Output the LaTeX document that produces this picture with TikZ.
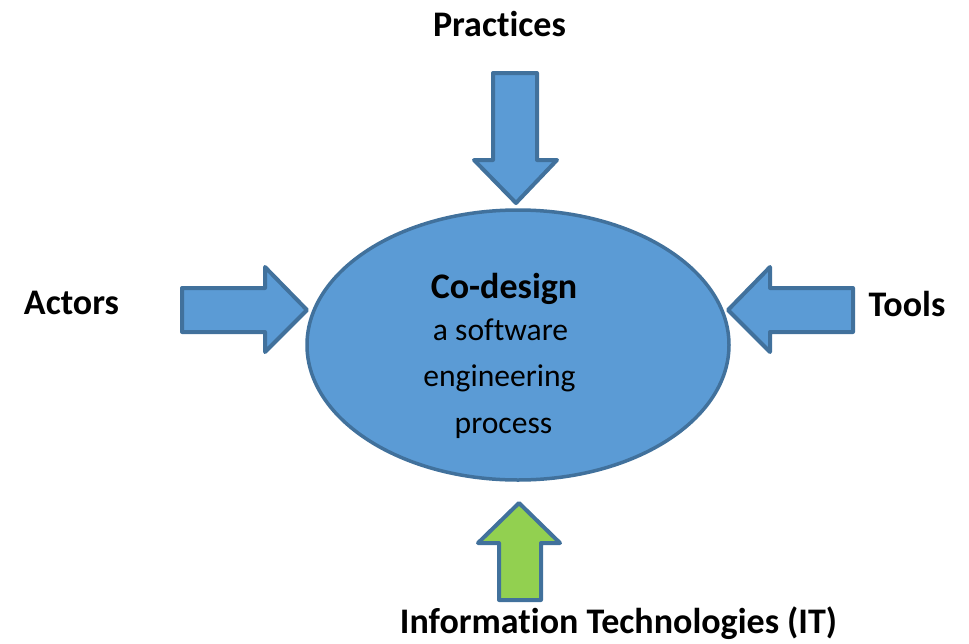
\documentclass[tikz,border=0pt]{standalone}
\usepackage{fontspec}
\setmainfont[Ligatures={NoCommon}]{Carlito}
\usetikzlibrary{shapes.geometric}
\definecolor{boxblue}{HTML}{5B9BD5}
\definecolor{edgeblue}{HTML}{41719C}
\definecolor{itgreen}{HTML}{92D050}
\pgfdeclarelayer{nodelayer}
\pgfdeclarelayer{edgelayer}
\pgfsetlayers{edgelayer,nodelayer,main}
\tikzstyle{none}=[inner sep=0pt, anchor=base]
\tikzstyle{title}=[none, font=\fontsize{36}{40}\selectfont\bfseries]
\tikzstyle{body}=[none, font=\fontsize{31.6}{36}\selectfont]
\tikzset{blockarrow/.style={draw=edgeblue, line width=4pt, fill=boxblue, line join=round}}
\tikzset{centre/.style={shape=ellipse, draw=edgeblue, line width=3.5pt, fill=boxblue, inner sep=0pt}}

\begin{document}
\begin{tikzpicture}[x=1pt, y=-1pt]
        \useasboundingbox (0, 0) rectangle (969, 643);
        \begin{pgfonlayer}{nodelayer}
            \node [centre, minimum width=422pt, minimum height=270pt] (0) at (518, 345) {};
            \node [title] (1) at (499.5, 36) {Practices};
            \node [title] (2) at (71.5, 314) {Actors};
            \node [title] (3) at (907, 316) {Tools};
            \node [title] (4) at (618.5, 633) {Information Technologies (IT)};
            \node [title] (5) at (504, 298) {Co-design};
            \node [body] (6) at (500.5, 340) {a software};
            \node [body] (7) at (499.5, 386) {engineering};
            \node [body] (8) at (503.5, 433) {process};
        \end{pgfonlayer}
        \begin{pgfonlayer}{edgelayer}
            % practices
            \draw [blockarrow] (493, 73) -- (537, 73) -- (537, 160) -- (557, 160) -- (516, 203) -- (474, 160) -- (493, 160) -- cycle;
            % actors
            \draw [blockarrow] (182, 288) -- (265, 288) -- (265, 267) -- (307, 310) -- (265, 352) -- (265, 332) -- (182, 332) -- cycle;
            % tools
            \draw [blockarrow] (853, 288) -- (770, 288) -- (770, 267) -- (728, 310) -- (770, 352) -- (770, 332) -- (853, 332) -- cycle;
            % IT
            \draw [blockarrow, fill=itgreen] (499, 600) -- (541, 600) -- (541, 543) -- (560, 543) -- (519, 503) -- (478, 543) -- (499, 543) -- cycle;
        \end{pgfonlayer}
    \end{tikzpicture}
\end{document}
